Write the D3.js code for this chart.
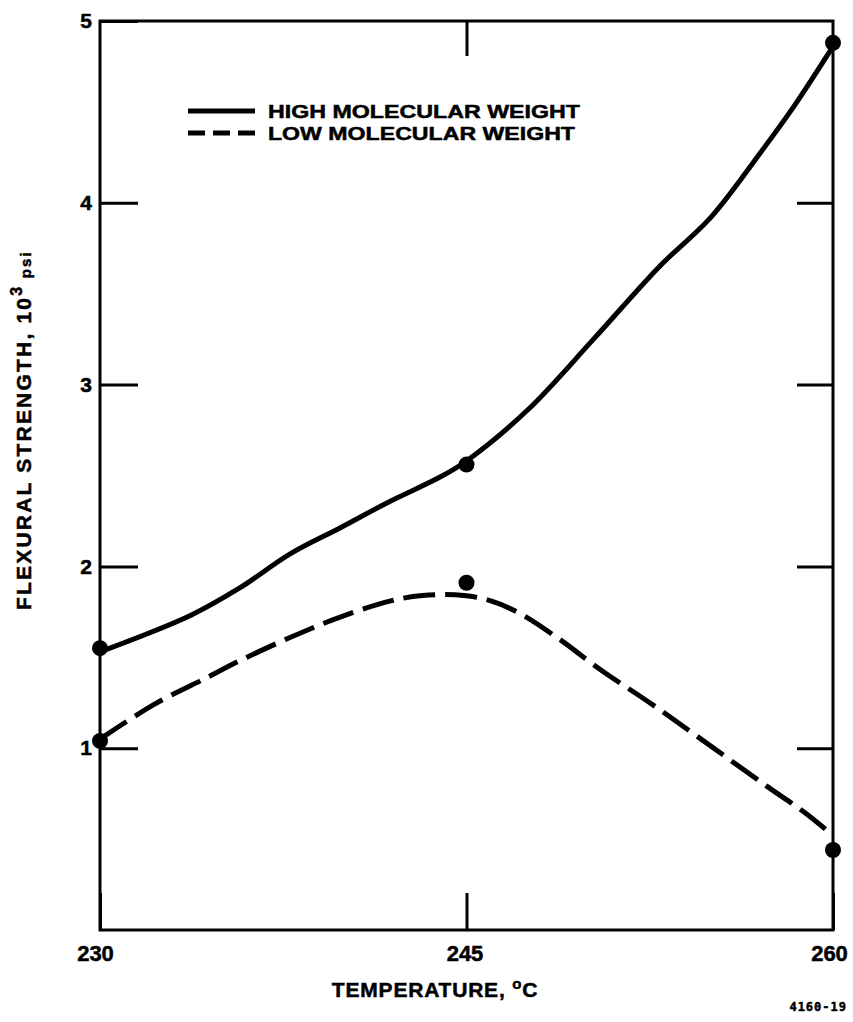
<!DOCTYPE html>
<html><head><meta charset="utf-8">
<script src="https://cdn.jsdelivr.net/npm/d3@7/dist/d3.min.js"></script>
<style>
html,body{margin:0;padding:0;background:#fff;}
svg{display:block;font-family:"Liberation Sans",Arial,Helvetica,sans-serif;font-weight:bold;}
svg text{stroke:#000;stroke-width:0.5px;paint-order:stroke;}
</style></head>
<body>
<script>
// ---- data ----
const xTicks = [230, 245, 260];
const yTicks = [1, 2, 3, 4, 5];
const seriesNames = ["HIGH MOLECULAR WEIGHT", "LOW MOLECULAR WEIGHT"];
// measured points (dots)
const highPoints = [[230, 1.55], [245, 2.56], [260, 4.88]];
const lowPoints = [[230, 1.04], [245, 1.91], [260, 0.44]];
// hand-drawn fitted curves
const highCurve = [[230,1.53],[233.7,1.73],[235.7,1.88],[237.8,2.07],[239.8,2.21],[241.9,2.36],[243.9,2.49],[245.0,2.58],[247.5,2.86],[250.2,3.25],[252.9,3.65],[255.0,3.92],[257.0,4.27],[258.4,4.53],[260,4.86]];
const lowCurve = [[230,1.05],[232.2,1.24],[234.4,1.39],[235.7,1.48],[237.8,1.61],[239.8,1.72],[241.9,1.81],[243.2,1.84],[244.9,1.84],[246.0,1.81],[247.2,1.74],[248.8,1.60],[250.5,1.43],[252.5,1.25],[254.6,1.05],[257.3,0.79],[258.8,0.65],[260,0.52]];

const W = 853, H = 1022;
const svg = d3.select("body").append("svg").attr("width", W).attr("height", H);

const x = d3.scaleLinear().domain([230, 260]).range([100, 833]);
const y = d3.scaleLinear().domain([0, 5]).range([930, 21]);

// frame
svg.append("rect").attr("x", 100).attr("y", 21).attr("width", 733).attr("height", 909)
  .attr("fill", "none").attr("stroke", "#000").attr("stroke-width", 3);

function styleAxis(g){
  g.select(".domain").remove();
  g.selectAll(".tick line").attr("stroke", "#000").attr("stroke-width", 3);
  g.selectAll(".tick text").attr("fill", "#000").attr("font-weight", "bold")
    .attr("font-family", "'Liberation Sans',Arial,sans-serif");
}

// left axis (ticks inward, labels outside)
const gl = svg.append("g").attr("transform", "translate(100,0)")
  .call(d3.axisLeft(y).tickValues(yTicks).tickFormat(d3.format("d")).tickSizeInner(-38).tickSizeOuter(0).tickPadding(8));
styleAxis(gl);
gl.selectAll(".tick text").attr("font-size", 21);

// right axis
const gr = svg.append("g").attr("transform", "translate(833,0)")
  .call(d3.axisRight(y).tickValues([1,2,3,4]).tickFormat("").tickSizeInner(-36).tickSizeOuter(0));
styleAxis(gr);

// top axis
const gt = svg.append("g").attr("transform", "translate(0,21)")
  .call(d3.axisTop(x).tickValues([245]).tickFormat("").tickSizeInner(-35).tickSizeOuter(0));
styleAxis(gt);

// bottom axis
const gb = svg.append("g").attr("transform", "translate(0,930)")
  .call(d3.axisBottom(x).tickValues(xTicks).tickFormat(d3.format("d")).tickSizeInner(-37).tickSizeOuter(0).tickPadding(14));
styleAxis(gb);
gb.selectAll(".tick text").attr("font-size", 22).attr("dy", "0.75em");
gb.selectAll(".tick text").attr("dx", (d) => d === 230 ? -5 : d === 260 ? -4 : -2);

// curves
const line = d3.line().x(d => x(d[0])).y(d => y(d[1])).curve(d3.curveCatmullRom.alpha(0.5));
svg.append("path").datum(highCurve).attr("d", line)
  .attr("fill", "none").attr("stroke", "#000").attr("stroke-width", 5).attr("stroke-linecap", "round");
svg.append("path").datum(lowCurve).attr("d", line)
  .attr("fill", "none").attr("stroke", "#000").attr("stroke-width", 5)
  .attr("stroke-dasharray", "32,10");

// dots
svg.append("g").selectAll("circle").data(highPoints.concat(lowPoints)).join("circle")
  .attr("cx", d => x(d[0])).attr("cy", d => y(d[1])).attr("r", 8).attr("fill", "#000");

// legend
const leg = svg.append("g");
leg.append("line").attr("x1", 188).attr("x2", 255).attr("y1", 111).attr("y2", 111)
  .attr("stroke", "#000").attr("stroke-width", 5);
leg.append("line").attr("x1", 188).attr("x2", 255).attr("y1", 133).attr("y2", 133)
  .attr("stroke", "#000").attr("stroke-width", 5).attr("stroke-dasharray", "17,8");
leg.append("text").attr("x", 268).attr("y", 118).attr("font-size", 19)
  .attr("textLength", 312).attr("lengthAdjust", "spacingAndGlyphs").text(seriesNames[0]);
leg.append("text").attr("x", 268).attr("y", 140).attr("font-size", 19)
  .attr("textLength", 307).attr("lengthAdjust", "spacingAndGlyphs").text(seriesNames[1]);

// x title
const xt = svg.append("text").attr("x", 435).attr("y", 997).attr("text-anchor", "middle")
  .attr("font-size", 21).attr("letter-spacing", 0.8);
xt.append("tspan").text("TEMPERATURE, ");
xt.append("tspan").attr("font-size", 15).attr("dy", -8).text("o");
xt.append("tspan").attr("dy", 8).text("C");

// y title
const yt = svg.append("text").attr("transform", "translate(31,430) rotate(-90)")
  .attr("text-anchor", "middle").attr("font-size", 21).attr("letter-spacing", 2.2);
yt.append("tspan").text("FLEXURAL STRENGTH, 10");
yt.append("tspan").attr("font-size", 16).attr("dy", -9).text("3");
yt.append("tspan").attr("font-size", 15).attr("dy", 9).text(" psi");

// figure number
svg.append("text").attr("x", 847).attr("y", 1011).attr("text-anchor", "end")
  .attr("font-family", "'DejaVu Sans Mono',monospace").attr("font-size", 12).attr("letter-spacing", 1)
  .text("4160-19");
</script>
</body></html>
